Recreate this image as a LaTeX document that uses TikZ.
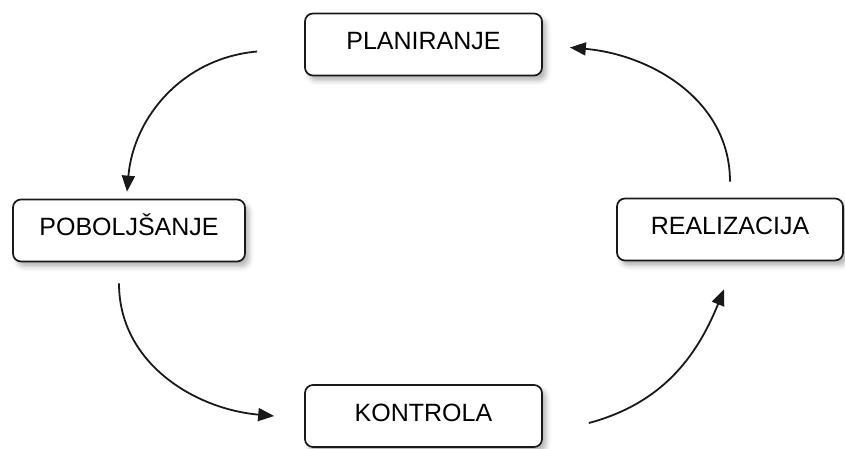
\documentclass[tikz,border=0pt]{standalone}
\usepackage{fontspec}
\setmainfont{Liberation Sans}
\usetikzlibrary{arrows.meta,shadows.blur}
\tikzset{
  faza/.style={draw=black!90,line width=1.7pt,rounded corners=8pt,fill=white,
    minimum height=62pt,inner sep=0pt,text height=18pt,text depth=8pt,
    font=\fontsize{25}{30}\selectfont,
    blur shadow={shadow xshift=4pt,shadow yshift=-5pt,shadow blur radius=5pt,shadow opacity=30}},
  ciklus/.style={line width=1.8pt,draw=black!90,-{Triangle[length=16pt,width=13pt]}}
}
\begin{document}
\begin{tikzpicture}[x=1pt,y=1pt]
\useasboundingbox (0,0) rectangle (845,448);
\node[faza,minimum width=237pt](plan)at(423.5,403.5){PLANIRANJE};
\node[faza,minimum width=232pt](pobolj)at(129,217.5){POBOLJŠANJE};
\node[faza,minimum width=226pt](real)at(730,218.5){REALIZACIJA};
\node[faza,minimum width=237pt](kontr)at(423.5,32){KONTROLA};
%cycle arrows
\draw[ciklus]([xshift=-47pt,yshift=-7pt]plan.west)to[out=185,in=85]([xshift=-2pt,yshift=7pt]pobolj.north);
\draw[ciklus]([xshift=-10pt,yshift=-21pt]pobolj.south)to[out=-90,in=175]([xshift=-30pt]kontr.west);
\draw[ciklus]([xshift=46pt,yshift=-7pt]kontr.east)to[out=15,in=-112]([xshift=-6pt,yshift=-28pt]real.south);
\draw[ciklus]([yshift=16pt]real.north)to[out=90,in=-5]([xshift=27pt,yshift=-3pt]plan.east);
\end{tikzpicture}
\end{document}
